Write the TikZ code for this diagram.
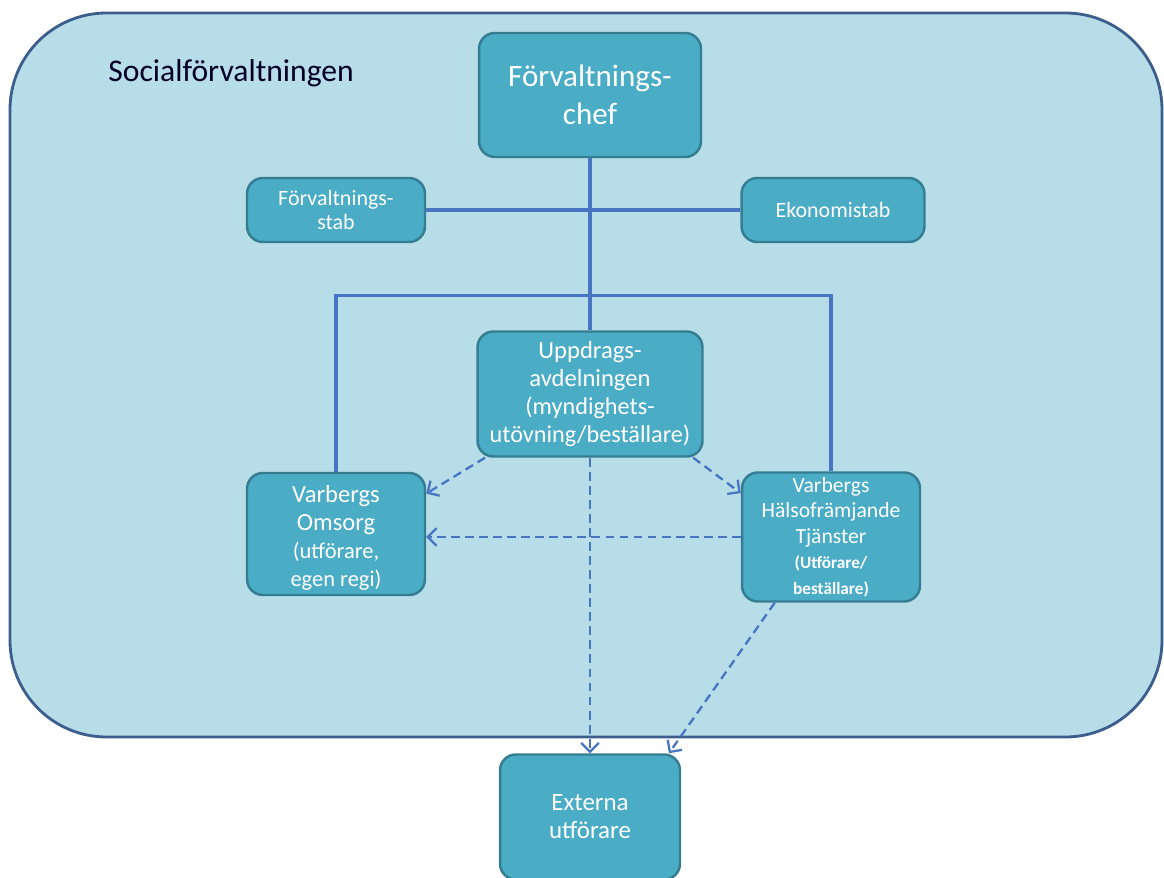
\documentclass[tikz,border=0pt]{standalone}
\usepackage{fontspec}
\setmainfont{Carlito}
\usetikzlibrary{arrows.meta}
\definecolor{bgfill}{HTML}{B7DDE8}
\definecolor{bgline}{HTML}{3B5E8C}
\definecolor{boxfill}{HTML}{4BACC6}
\definecolor{boxline}{HTML}{357D91}
\definecolor{linkcol}{HTML}{4775C2}
\newcommand{\unitsize}[2]{\fontsize{#1}{#2}\selectfont}

\begin{document}
\begin{tikzpicture}[x=0.02cm,y=-0.02cm,
  unit/.style={draw=boxline,line width=1.4pt,fill=boxfill,rounded corners=9pt,
    text=white,align=center,inner sep=0pt},
  solidlink/.style={draw=linkcol,line width=1.8pt},
  dashlink/.style={draw=linkcol,line width=1.3pt,dash pattern=on 5pt off 3pt,
    -{Straight Barb[length=5pt,width=10pt]}}]
  \useasboundingbox (0,0) rectangle (1164,878);

  %outer frame
  \draw[bgline,fill=bgfill,line width=1.6pt,rounded corners=55pt] (10,13) rectangle (1162,737);
  \node[anchor=base west,inner sep=0pt,text=black!85!blue,font=\unitsize{18}{21}] (title)
    at (108,82) {Socialförvaltningen};

  %boxes
  \node[unit,minimum width=4.44cm,minimum height=2.48cm,font=\unitsize{17.7}{21.5}]
    (chef) at (590,95) {Förvaltnings-\\chef};
  \node[unit,minimum width=3.56cm,minimum height=1.28cm,font=\unitsize{12.5}{14}]
    (stab) at (336,210) {Förvaltnings-\\stab};
  \node[unit,minimum width=3.66cm,minimum height=1.28cm,font=\unitsize{12.5}{14}]
    (eko) at (833,210) {Ekonomistab};
  \node[unit,minimum width=4.5cm,minimum height=2.5cm,font=\unitsize{14}{15.8}]
    (uppdrag) at (590,394) {Uppdrags-\\avdelningen\\
     \unitsize{13.8}{15.2}(myndighets-\\\unitsize{13.8}{14.5}utövning/beställare)};
  \node[unit,minimum width=3.56cm,minimum height=2.44cm,font=\unitsize{14}{15.8}]
    (omsorg) at (336,534) {\rule{0pt}{14pt}Varbergs\\Omsorg\\\unitsize{12.8}{15.2}(utförare,\\
     \unitsize{12.8}{15.2}egen regi)};
  \node[unit,minimum width=3.56cm,minimum height=2.58cm,font=\unitsize{12.3}{14.5}]
    (vht) at (831,537) {Varbergs\\Hälsofrämjande\\Tjänster\\
     \unitsize{9.8}{12.5}\bfseries(Utförare/\\\unitsize{9.8}{12.5}\bfseries beställare)};
  \node[unit,minimum width=3.6cm,minimum height=2.5cm,font=\unitsize{14.2}{16}]
    (externa) at (590,817) {Externa\\utförare};

  %solid lines
  \draw[solidlink] (chef.south) -- (uppdrag.north);
  \draw[solidlink] (stab.east) -- (eko.west);
  \draw[solidlink] (omsorg.north) -- ++(0,-176) -| (vht.north);

  %dashed arrows
  \draw[dashlink] ([xshift=5pt]uppdrag.south west) -- ([yshift=23pt]omsorg.east);
  \draw[dashlink] ([xshift=-6pt]uppdrag.south east) -- ([yshift=25pt]vht.west);
  \draw[dashlink] (vht.west) -- (vht.west -| omsorg.east);
  \draw[dashlink] (uppdrag.south) -- (externa.north);
  \draw[dashlink] ([xshift=-32pt]vht.south) -- ([xshift=-7pt]externa.north east);
\end{tikzpicture}
\end{document}
